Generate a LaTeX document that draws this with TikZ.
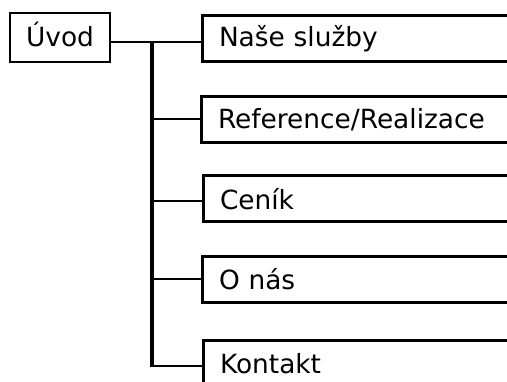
\documentclass[tikz,border=0pt]{standalone}
\usepackage{fontspec}
\setmainfont{DejaVu Sans}
\begin{document}
\begin{tikzpicture}[x=1pt,y=-1pt,
  rootbox/.style={draw,line width=1.5pt,minimum width=100pt,minimum height=49pt,inner sep=0pt,text depth=7pt,font=\fontsize{26.4}{30}\selectfont},
  itembox/.style={draw,line width=3pt,anchor=west,minimum height=46pt,text width=300pt,align=left,inner xsep=16.5pt,inner ysep=0pt,font=\fontsize{26.4}{30}\selectfont},
  branch/.style={line width=1.6pt},
  trunkline/.style={line width=3.2pt}]
\useasboundingbox (0,0) rectangle (507,382);
\clip (0,0) rectangle (507,382);
\node[rootbox] (uvod) at (60,37.5) {Úvod};
\node[itembox] (s1) at (201,38.5) {Naše služby};
\node[itembox] (s2) at (200,120) {Reference/Realizace};
\node[itembox] (s3) at (202,199) {Ceník};
\node[itembox] (s4) at (201,279.5) {O nás};
\node[itembox] (s5) at (202,364) {Kontakt};
\coordinate (t0) at (152,42);
\coordinate (t1) at (152,119);
\coordinate (t2) at (152,201);
\coordinate (t3) at (152,279);
\coordinate (t4) at (152,366);
\draw[branch] (uvod.east |- t0) -- (s1.west |- t0);
\draw[trunkline] ([yshift=0.8pt]t0) -- ([yshift=-0.8pt]t4);
\draw[branch] (t1) -- (s2.west |- t1);
\draw[branch] (t2) -- (s3.west |- t2);
\draw[branch] (t3) -- (s4.west |- t3);
\draw[branch] (t4) -- (s5.west |- t4);
\end{tikzpicture}
\end{document}
